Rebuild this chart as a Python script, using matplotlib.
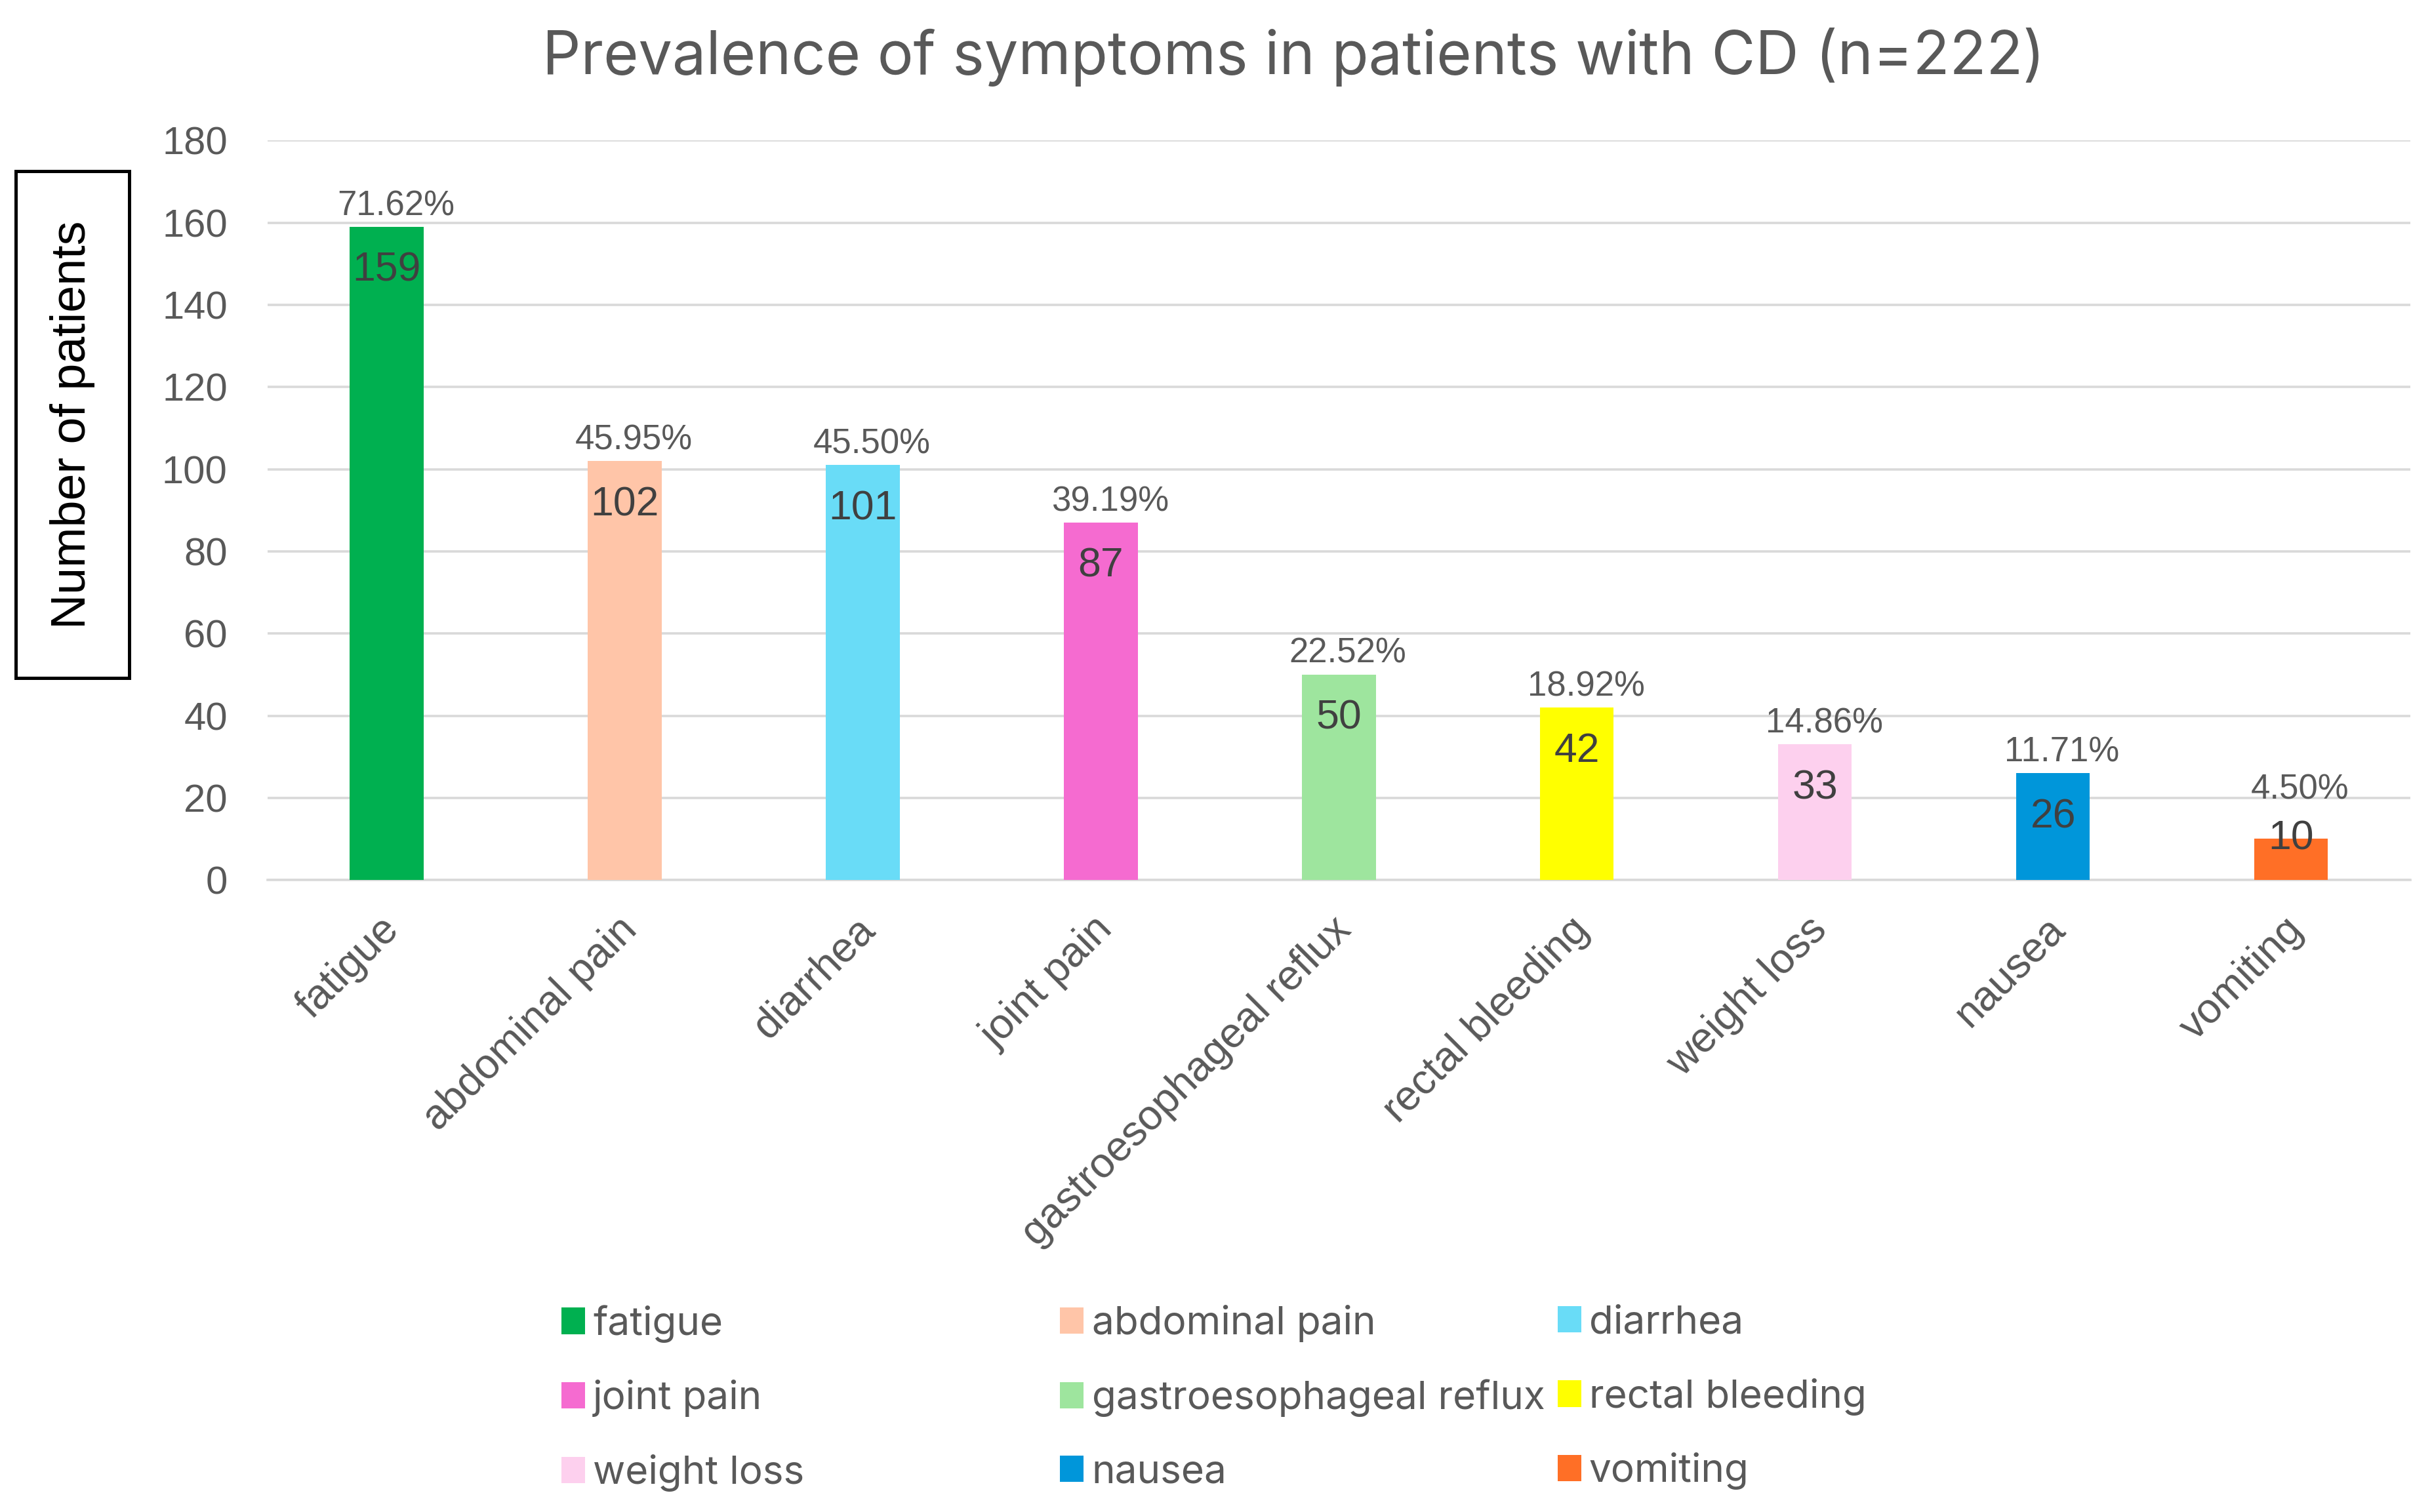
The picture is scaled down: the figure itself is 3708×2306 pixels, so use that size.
import matplotlib
matplotlib.use("Agg")
import matplotlib.pyplot as plt
from matplotlib.patches import Rectangle, Patch
from matplotlib.transforms import ScaledTranslation
import numpy as np

# ---- data ----
categories = ["fatigue", "abdominal pain", "diarrhea", "joint pain",
              "gastroesophageal reflux", "rectal bleeding", "weight loss",
              "nausea", "vomiting"]
counts = [159, 102, 101, 87, 50, 42, 33, 26, 10]
n_total = 222
colors = ["#00B050", "#FFC5A8", "#69DCF7", "#F56BD0", "#9EE59E",
          "#FFFF00", "#FDD0EE", "#0096DA", "#FF6F26"]
yticks = [0, 20, 40, 60, 80, 100, 120, 140, 160, 180]
title = "Prevalence of symptoms in patients with CD (n=222)"
ylabel = "Number of patients"

plt.rcParams['font.family'] = ['Liberation Sans', 'DejaVu Sans']
TXT = "#595959"
APTOS_LIKE = ['Inter', 'DejaVu Sans']

W, H, DPI = 3708, 2306, 200
fig = plt.figure(figsize=(W / DPI, H / DPI), dpi=DPI)
ax = fig.add_axes([0.110, 0.418, 0.881, 0.489])

x = np.arange(len(categories))
bars = ax.bar(x, counts, width=0.31, color=colors, zorder=3)

ax.set_xlim(-0.5, len(categories) - 0.5)
ax.set_ylim(0, 180)
ax.set_yticks(yticks)
ax.tick_params(axis='y', length=0, pad=22, labelsize=21.5, labelcolor=TXT)
ax.yaxis.grid(True, color="#D9D9D9", linewidth=1.3, zorder=0)
ax.set_axisbelow(True)
for s in ["top", "right", "left"]:
    ax.spines[s].set_visible(False)
ax.spines["bottom"].set_color("#D9D9D9")
ax.spines["bottom"].set_linewidth(1.3)

ax.set_xticks(x)
ax.set_xticklabels(categories, rotation=45, ha='right', va='center',
                   rotation_mode='anchor', fontsize=23, color=TXT)
ax.tick_params(axis='x', length=0, pad=24)
shift = ScaledTranslation(0.045, 0, fig.dpi_scale_trans)
for lbl in ax.get_xticklabels():
    lbl.set_transform(lbl.get_transform() + shift)

# value labels and percent labels
for xi, v in zip(x, counts):
    vy = v - 10.6 if v > 20 else v
    ax.text(xi, vy, f"{v}", ha='center', va='center', fontsize=22.5,
            color="#404040", zorder=4)
    py = v + 5.1 if v > 20 else v + 12
    ax.annotate(f"{v / n_total * 100:.2f}%", (xi, py), xytext=(5, 0),
                textcoords='offset points', ha='center', va='center',
                fontsize=19, color=TXT, zorder=4)

fig.suptitle(title, x=0.532, y=0.982, fontsize=33, color=TXT, va='top',
             family=APTOS_LIKE)

# y-label in a box
bx0, by0 = 24 / W, 1 - 1034 / H
bw, bh = (197 - 24) / W, (1034 - 261) / H
fig.patches.append(Rectangle((bx0, by0), bw, bh, transform=fig.transFigure,
                             fill=False, edgecolor='black', linewidth=1.8))
fig.text(bx0 + bw / 2, by0 + bh / 2, ylabel, rotation=90, ha='center',
         va='center', fontsize=26.5, color='black')

# legend: three columns laid out row-wise
col_x = [0.2308, 0.4359, 0.6404]
for c in range(3):
    idx = [c, c + 3, c + 6]
    handles = [Patch(facecolor=colors[i], edgecolor='none') for i in idx]
    labels = [categories[i] for i in idx]
    fig.legend(handles, labels, loc='upper left', bbox_to_anchor=(col_x[c], 0.137),
               frameon=False, prop={'family': APTOS_LIKE, 'size': 21.7},
               labelcolor=TXT, borderpad=0,
               borderaxespad=0, handlelength=0.6, handleheight=0.65,
               handletextpad=0.2, labelspacing=0.94)

fig.savefig("out.png", dpi=DPI, facecolor='white')
